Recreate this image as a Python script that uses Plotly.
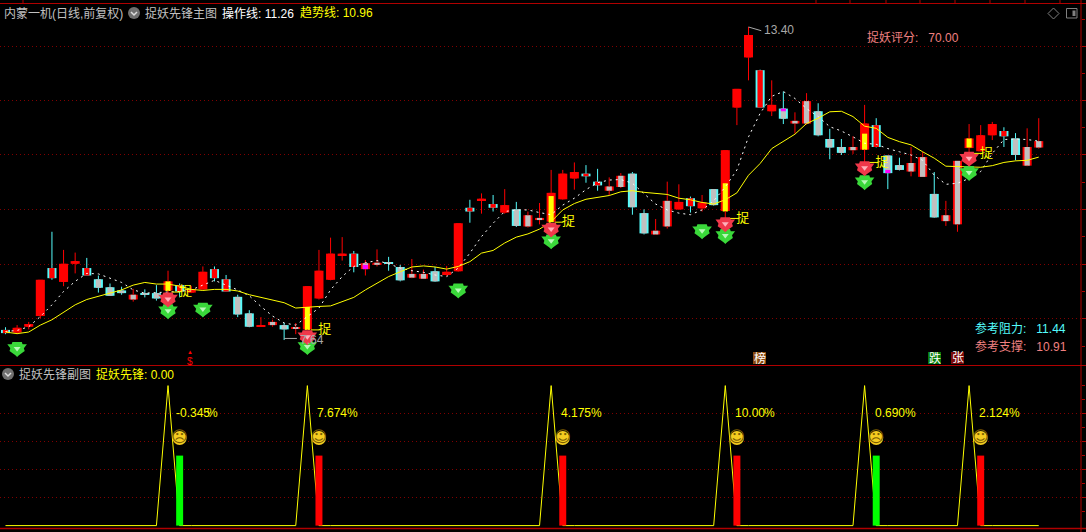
import plotly.graph_objects as go

W, H = 1086, 532

idx = list(range(90))
kinds = ["CR","R","R","R","CR","R","R","CR","CG","CG","CG","RG","CG","CG","R","CR","R","R","CR","CR","CG","CG","R","RG","CG","RG","R","R","R","R","CR",
         "RG","RG","CG","CG","RG","RG","CG","R","R","CR","R","CR","R","CG","RG","RG","R","R","R","CR","CR","RG","RG","CG","CG","RG","RG","R","CR","R","CG",
         "R","R","R","CR","R","CG","RG","RG","CG","CG","CG","RG","R","CR","CG","CG","RG","RG","CG","RG","RG","R","R","R","CR","CG","RG","RG"]
body_top = [7.72,7.76,7.83,8.66,8.88,8.96,9.01,8.88,8.67,8.52,8.46,8.38,8.41,8.41,8.63,8.56,8.48,8.81,8.86,8.67,8.34,8.03,7.80,7.87,7.81,7.76,8.54,8.83,9.15,9.15,9.15,
            8.97,8.98,8.99,8.90,8.77,8.77,8.82,8.81,9.72,10.01,10.18,10.08,10.06,9.98,9.87,9.82,10.29,10.65,10.68,10.65,10.50,10.41,10.61,10.65,9.91,9.58,10.14,10.12,10.19,10.11,10.36,
            11.09,12.24,13.25,12.59,11.94,11.87,11.64,12.01,11.82,11.30,11.15,11.15,11.59,11.56,10.99,10.81,10.85,10.96,10.27,9.87,10.89,11.31,11.37,11.58,11.45,11.31,11.15,11.26]
body_bot = [7.66,7.67,7.78,7.98,8.69,8.62,8.96,8.74,8.51,8.36,8.41,8.29,8.38,8.31,8.46,8.44,8.42,8.48,8.69,8.44,8.01,7.78,7.79,7.81,7.73,7.74,7.73,8.31,8.66,9.12,8.90,
            8.86,8.94,8.97,8.65,8.70,8.68,8.63,8.75,8.82,9.94,10.15,10.01,9.92,9.67,9.66,9.78,9.75,10.17,10.56,10.60,10.43,10.33,10.40,10.02,9.53,9.51,9.66,9.98,10.04,10.00,10.06,
            9.95,11.89,12.83,11.89,11.82,11.68,11.59,11.59,11.37,11.14,11.04,11.09,11.10,11.15,10.66,10.72,10.69,10.59,9.83,9.76,9.70,11.13,11.07,11.37,11.35,11.00,10.80,11.14]
high = [7.77,7.81,7.87,8.66,9.56,9.22,9.17,9.07,8.74,8.59,8.53,8.49,8.48,8.56,8.83,8.59,8.54,8.91,8.91,8.75,8.38,8.09,7.96,7.91,7.85,7.85,8.54,9.22,9.45,9.46,9.20,
        9.03,9.23,9.09,8.94,9.05,8.85,8.90,8.92,9.72,10.16,10.28,10.25,10.36,10.12,9.94,10.10,10.72,10.72,10.86,10.81,10.74,10.58,10.66,10.68,9.98,9.80,10.50,10.45,10.22,10.25,10.36,
        11.09,12.24,13.40,12.60,12.40,12.19,11.80,12.16,11.97,11.49,11.30,11.35,11.94,11.69,10.99,10.95,11.15,11.06,10.68,10.14,10.89,11.58,11.56,11.62,11.52,11.41,11.50,11.69]
low = [7.64,7.64,7.73,7.94,8.66,8.54,8.78,8.74,8.42,8.36,8.38,8.25,8.33,8.27,8.41,8.33,8.41,8.47,8.63,8.44,7.96,7.77,7.78,7.78,7.53,7.64,7.72,8.29,8.65,9.02,8.80,
       8.74,8.91,8.83,8.63,8.69,8.68,8.62,8.73,8.81,9.73,9.90,9.94,9.90,9.65,9.64,9.70,9.75,10.16,10.35,10.48,10.33,10.25,10.38,9.88,9.51,9.50,9.62,9.97,9.92,9.94,10.05,
       9.81,11.56,12.40,11.89,11.73,11.58,11.40,11.57,11.35,10.92,11.00,11.02,10.84,11.14,10.36,10.71,10.60,10.59,9.82,9.67,9.56,11.03,11.06,11.28,11.15,10.90,10.79,11.12]
operate_line = [7.69,7.71,7.78,7.97,8.19,8.44,8.63,8.78,8.77,8.69,8.61,8.47,8.41,8.42,8.43,8.44,8.47,8.56,8.65,8.56,8.47,8.36,8.16,7.98,7.85,7.81,7.97,8.13,8.47,8.72,8.91,
                8.98,9.02,8.96,8.88,8.83,8.80,8.75,8.72,8.88,9.16,9.47,9.72,9.94,9.97,9.97,9.92,9.88,10.06,10.19,10.35,10.48,10.53,10.54,10.47,10.28,10.08,9.97,9.91,9.88,9.97,
                10.14,10.40,10.72,11.34,11.78,12.10,12.19,12.06,11.87,11.72,11.53,11.45,11.34,11.22,11.20,11.12,11.06,11.00,10.90,10.62,10.45,10.47,10.56,10.69,11.03,11.29,11.30,11.29,11.26]
trend_line = [7.68,7.65,7.68,7.81,7.91,8.05,8.19,8.29,8.35,8.41,8.47,8.56,8.61,8.58,8.58,8.54,8.48,8.46,8.48,8.48,8.45,8.38,8.33,8.29,8.23,8.13,8.15,8.16,8.17,8.25,8.33,
              8.47,8.60,8.72,8.81,8.90,8.92,8.90,8.86,8.91,9.00,9.16,9.21,9.35,9.46,9.52,9.61,9.75,9.97,10.09,10.17,10.20,10.24,10.31,10.33,10.30,10.28,10.26,10.19,10.16,10.11,10.08,
              10.16,10.29,10.62,10.84,11.12,11.25,11.39,11.59,11.69,11.81,11.82,11.72,11.54,11.50,11.33,11.25,11.19,11.06,10.94,10.79,10.78,10.78,10.77,10.80,10.86,10.89,10.90,10.96]

catch_idx = [14,26,47,62,74,83]
catch_top = [8.63,8.15,10.23,10.47,11.40,11.31]
catch_bot = [8.45,7.72,9.74,9.94,11.10,11.14]
catch_level = [8.43,7.72,9.74,9.81,10.86,11.03]
magenta_idx = [31,67,76]
magenta_top = [8.94,11.87,10.72]
magenta_bot = [8.86,11.82,10.66]
green_gem_idx = [1,14,17,26,39,47,60,62,74,83]
green_gem_val = [7.37,8.08,8.11,7.41,8.47,9.39,9.58,9.49,10.50,10.67]
red_gem_idx = [14,26,47,62,74,83]
red_gem_val = [8.30,7.59,9.61,9.71,10.76,10.94]

sub_peaks = [14,26,47,62,74,83]
sub_line = [100 if i in sub_peaks else 0 for i in idx]
sub_bar_idx = [15,27,48,63,75,84]
sub_bar_val = [50,50,50,50,50,50]
sub_bar_color = ["#00ff00","#ff0000","#ff0000","#ff0000","#00ff00","#ff0000"]
face_val = [62.5]*6
face_glyph = ["☹","☺","☺","☺","☹","☺"]

RED, CYAN, SILVER, YEL = "#ff0000", "#54fcfc", "#c0c0c0", "#ffff00"
outer = {"R":RED,"RG":RED,"CG":CYAN,"CR":CYAN}
inner = {"R":RED,"RG":SILVER,"CG":SILVER,"CR":RED}

fig = go.Figure()
X = dict(xaxis="x", yaxis="y")
X2 = dict(xaxis="x2", yaxis="y2")

def wicks(col):
    xs, ys = [], []
    for i in idx:
        if outer[kinds[i]] == col:
            if high[i] > body_top[i]:
                xs += [i, i, None]; ys += [high[i], body_top[i], None]
            if low[i] < body_bot[i]:
                xs += [i, i, None]; ys += [body_bot[i], low[i], None]
    return xs, ys

heights = [t-b for t, b in zip(body_top, body_bot)]
fig.add_trace(go.Bar(x=idx, y=heights, base=body_bot, width=0.78, marker=dict(color=[outer[k] for k in kinds], line_width=0), **X))
fig.add_trace(go.Bar(x=idx, y=heights, base=body_bot, width=0.46, marker=dict(color=[inner[k] for k in kinds], line_width=0), **X))
fig.add_trace(go.Bar(x=catch_idx, y=[t-b for t, b in zip(catch_top, catch_bot)], base=catch_bot, width=0.44, marker=dict(color=YEL, line_width=0), **X))
fig.add_trace(go.Bar(x=magenta_idx, y=[t-b for t, b in zip(magenta_top, magenta_bot)], base=magenta_bot, width=0.44, marker=dict(color="#ff00ff", line_width=0), **X))
for col in (RED, CYAN):
    xs, ys = wicks(col)
    fig.add_trace(go.Scatter(x=xs, y=ys, mode="lines", line=dict(color=col, width=1), connectgaps=False, **X))
fig.add_trace(go.Scatter(x=idx, y=operate_line, mode="lines", line=dict(color="#ffffff", width=1, dash="2px,4px"), **X))
fig.add_trace(go.Scatter(x=idx, y=trend_line, mode="lines", line=dict(color=YEL, width=1), **X))

# leader lines and catch labels
lx, ly = [], []
for i, v in zip(catch_idx, catch_level):
    lx += [i+0.3, i+1.05, None]; ly += [v, v, None]
fig.add_trace(go.Scatter(x=lx, y=ly, mode="lines", line=dict(color=YEL, width=1), **X))
fig.add_trace(go.Scatter(x=[i+1.5 for i in catch_idx], y=catch_level, mode="text", text=["捉"]*6,
                         textfont=dict(color=YEL, size=13, family="Noto Sans CJK SC"), **X))

# gems: a down triangle and a down pentagon stacked give the cut-stone outline
def gem(xs, ys, base, pale):
    fig.add_trace(go.Scatter(x=xs, y=ys, mode="markers", marker=dict(symbol="triangle-down", size=17, color=base, line_width=0), **X))
    fig.add_trace(go.Scatter(x=xs, y=ys, mode="markers", marker=dict(symbol="pentagon", angle=180, size=16, color=base, line_width=0), **X))
    fig.add_trace(go.Scatter(x=xs, y=ys, mode="markers", marker=dict(symbol="triangle-down", size=6, color=pale, line_width=0), **X))
gem(green_gem_idx, green_gem_val, "#3ad83a", "#b8f8b8")
gem(red_gem_idx, red_gem_val, "#f0384a", "#ffb0ba")

# high / low pointers
fig.add_trace(go.Scatter(x=[64,65.1], y=[13.40,13.33], mode="lines", line=dict(color="#a8a8a8", width=1), **X))
fig.add_trace(go.Scatter(x=[24,25.1], y=[7.56,7.56], mode="lines", line=dict(color="#a8a8a8", width=1), **X))

# sub panel
fig.add_trace(go.Scatter(x=idx, y=sub_line, mode="lines", line=dict(color=YEL, width=1), **X2))
fig.add_trace(go.Bar(x=sub_bar_idx, y=sub_bar_val, width=0.6, marker=dict(color=sub_bar_color, line_width=0), xaxis="x2", yaxis="y3"))
fig.add_trace(go.Scatter(x=sub_bar_idx, y=face_val, mode="markers+text", text=face_glyph, textposition="middle center",
                         marker=dict(symbol="circle", size=14, color="#f5cc20"),
                         textfont=dict(color="#7a5c00", size=16, family="DejaVu Sans"), xaxis="x2", yaxis="y3"))

px2x = lambda p: p/W
py2y = lambda p: 1-p/H
FONT = "Liberation Sans, Noto Sans CJK SC"
NB = "\u00a0"
ann = []
def T(text, px, py, color, size=12, anchor="left", family=FONT):
    ann.append(dict(text=text, x=px2x(px), y=py2y(py), xref="paper", yref="paper", xanchor=anchor, yanchor="middle",
                    showarrow=False, font=dict(color=color, size=size, family=family), borderpad=0))

T("内蒙一机(日线,前复权)", 3, 13, "#c0c0c0")
T("捉妖先锋主图", 144, 13, "#c0c0c0")
T("操作线: 11.26", 221, 13, "#ffffff")
T("趋势线: 10.96", 299, 13, YEL)
T("捉妖先锋副图", 18, 374, "#c0c0c0")
T("捉妖先锋: 0.00", 95, 374, YEL)
T("捉妖评分:"+NB*3+"70.00", 866, 38, "#f08080")
T("参考阻力:"+NB*3+"11.44", 974, 328, "#54fcfc")
T("参考支撑:"+NB*3+"10.91", 974, 346, "#f08080")
T("13.40", 763, 30, "#a8a8a8")
T("7.64", 299, 340, "#a8a8a8")
T("▲", 190, 352, RED, size=6, anchor="center")
T("$", 190, 361, RED, size=10, anchor="center")

for txt, px in [("-0.345", 175), ("7.674%", 316), ("4.175%", 560), ("10.00", 734), ("0.690%", 874), ("2.124%", 978)]:
    T(txt, px, 413, YEL)
T("%", 206, 413, YEL)
T("%", 763, 413, YEL)

shapes = []
def box(x0, y0, x1, y1, col):
    shapes.append(dict(type="rect", xref="paper", yref="paper", x0=x0/W, x1=x1/W, y0=1-y1/H, y1=1-y0/H,
                       fillcolor=col, line_width=0, layer="above"))
box(753, 352, 766, 364, "#8a4a10")
box(928, 352, 941, 364, "#0a7a0a")
box(951, 352, 964, 364, "#7a0a0a")
T("榜", 759.5, 358, "#ffffff", anchor="center")
T("跌", 934.5, 358, "#ffffff", anchor="center")
T("张", 957.5, 358, "#ffffff", anchor="center")

def hline(py, x0=0, x1=W, col="#b00000", w=1):
    shapes.append(dict(type="line", xref="paper", yref="paper", x0=x0/W, x1=x1/W, y0=1-py/H, y1=1-py/H, line=dict(color=col, width=w)))
hline(3.5)
hline(365.5)
hline(528.5, w=1.5)
shapes.append(dict(type="line", xref="paper", yref="paper", x0=1081/W, x1=1081/W, y0=0, y1=1, line=dict(color="#b00000", width=1)))
for tx in [23, 816, 850, 886, 920, 955, 990, 1025, 1060]:
    shapes.append(dict(type="line", xref="paper", yref="paper", x0=tx/W, x1=tx/W, y0=1-3/H, y1=1, line=dict(color="#b00000", width=1)))
# collapse icons
for cx, cy in [(134, 13), (8, 374)]:
    shapes.append(dict(type="circle", xref="paper", yref="paper", x0=(cx-6)/W, x1=(cx+6)/W, y0=1-(cy+6)/H, y1=1-(cy-6)/H,
                       fillcolor="#707070", line_width=0))
    shapes.append(dict(type="path", xref="paper", yref="paper",
                       path=f"M {(cx-3)/W} {1-(cy-1)/H} L {cx/W} {1-(cy+2)/H} L {(cx+3)/W} {1-(cy-1)/H}",
                       line=dict(color="#dddddd", width=1.5)))
# window buttons
shapes.append(dict(type="path", xref="paper", yref="paper",
                   path=f"M {1053.5/W} {1-8/H} L {1059/W} {1-13.5/H} L {1053.5/W} {1-19/H} L {1048/W} {1-13.5/H} Z",
                   line=dict(color="#808080", width=1)))
shapes.append(dict(type="rect", xref="paper", yref="paper", x0=1066.5/W, x1=1077/W, y0=1-18/H, y1=1-8.5/H, line=dict(color="#808080", width=1)))
shapes.append(dict(type="rect", xref="paper", yref="paper", x0=1072.5/W, x1=1075.5/W, y0=1-16/H, y1=1-10.5/H, fillcolor="#808080", line_width=0))

xr = [-0.474, 92.64]
main_major = [13.03,12.02,11.00,9.98,8.95,7.93]
main_minor = [13.54,12.52,11.51,10.49,9.47,8.44,7.41]
sub_major = [20,40,60,80]
sub_minor = [10,30,50,70,90,100]
grid = dict(showgrid=True, gridcolor="#800000", griddash="1px,3px", gridwidth=1, zeroline=False, showline=False,
            showticklabels=False, ticks="outside", ticklen=5, tickcolor="#b00000", side="right")
fig.update_layout(
    width=W, height=H, margin=dict(l=0, r=0, t=0, b=0), paper_bgcolor="#000000", plot_bgcolor="#000000",
    barmode="overlay", showlegend=False, hovermode=False, annotations=ann, shapes=shapes,
    xaxis=dict(domain=[0, 1081/W], range=xr, visible=False, anchor="y"),
    xaxis2=dict(domain=[0, 1081/W], range=xr, visible=False, anchor="y2"),
    yaxis=dict(domain=[1-365/H, 1-3/H], range=[7.062, 13.85], anchor="x", tickmode="array", tickvals=main_major,
               minor=dict(tickmode="array", tickvals=main_minor, ticks="outside", ticklen=3, tickcolor="#b00000", showgrid=False), **grid),
    yaxis2=dict(domain=[1-527/H, 1-366/H], range=[-1, 114], anchor="x2", tickmode="array", tickvals=sub_major,
                minor=dict(tickmode="array", tickvals=sub_minor, ticks="outside", ticklen=3, tickcolor="#b00000", showgrid=False), **grid),
    yaxis3=dict(overlaying="y2", range=[-1, 114], visible=False, anchor="x2"),
)
fig.write_html("out.html", config=dict(displayModeBar=False),
               post_script="document.body.style.margin='0';document.body.style.background='#000';")
